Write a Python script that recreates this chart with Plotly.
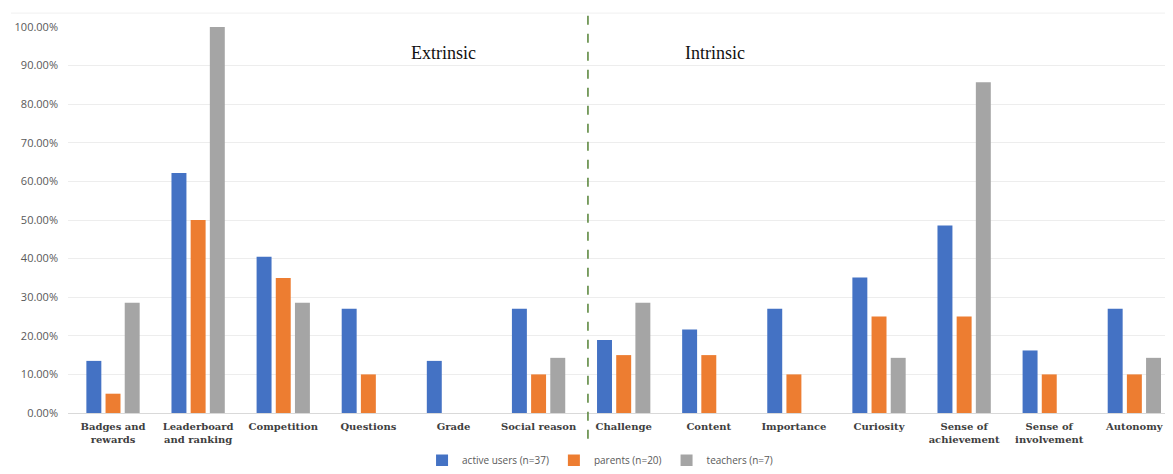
import plotly.graph_objects as go

categories = ["Badges and<br>rewards", "Leaderboard<br>and ranking", "Competition", "Questions",
              "Grade", "Social reason", "Challenge", "Content", "Importance", "Curiosity",
              "Sense of<br>achievement", "Sense of<br>involvement", "Autonomy"]
active_users = [0.135, 0.622, 0.405, 0.270, 0.135, 0.270, 0.189, 0.216, 0.270, 0.351, 0.486, 0.162, 0.270]
parents = [0.05, 0.50, 0.35, 0.10, 0.0, 0.10, 0.15, 0.15, 0.10, 0.25, 0.25, 0.10, 0.10]
teachers = [0.2857, 1.0, 0.2857, 0.0, 0.0, 0.1429, 0.2857, 0.0, 0.0, 0.1429, 0.8571, 0.0, 0.1429]
series_names = ["active users (n=37)", "parents (n=20)", "teachers (n=7)"]
colors = ["#4472C4", "#ED7D31", "#A5A5A5"]

fig = go.Figure()
for name, vals, c in zip(series_names, [active_users, parents, teachers], colors):
    fig.add_trace(go.Bar(x=categories, y=vals, name=name, marker_color=c,
                         marker_line_width=0))

fig.update_layout(
    width=1157, height=458,
    margin=dict(l=60, r=0, t=19, b=53),
    paper_bgcolor="white", plot_bgcolor="white",
    barmode="group", bargap=0.324, bargroupgap=0.22,
    showlegend=True,
    legend=dict(orientation="h", x=0.485, xanchor="center", xref="paper",
                y=0.012, yanchor="middle", yref="container",
                font=dict(family="Open Sans, sans-serif", size=10, color="#595959"),
                itemwidth=30, traceorder="normal", tracegroupgap=0),
    xaxis=dict(range=[-0.529, 12.36],
               tickfont=dict(family="DejaVu Serif, serif", size=10, color="#404040", weight="bold"),
               showline=True, linecolor="#D9D9D9", linewidth=1, ticks="", automargin=False,
               ticklabelstandoff=4),
    yaxis=dict(range=[0, 1.0], tickformat=".2%", dtick=0.1,
               tickfont=dict(family="Open Sans, sans-serif", size=11, color="#595959"),
               showgrid=True, gridcolor="#EDEDED", gridwidth=1, zeroline=False, ticks="",
               automargin=False, ticklabelstandoff=9),
    font=dict(family="Liberation Serif, serif"),
)

fig.add_shape(type="line", xref="x", yref="paper", x0=5.58, x1=5.58, y0=-0.16, y1=1.036,
              line=dict(color="#548235", width=1.5, dash="dash"))
fig.add_shape(type="line", xref="paper", yref="paper", x0=-0.052, x1=1.0, y0=1.036, y1=1.036,
              line=dict(color="#F0F0F0", width=1))

fig.add_annotation(text="Extrinsic", xref="x", yref="y", x=3.88, y=0.933, showarrow=False,
                   font=dict(family="Liberation Serif, serif", size=18, color="#111111"))
fig.add_annotation(text="Intrinsic", xref="x", yref="y", x=7.07, y=0.933, showarrow=False,
                   font=dict(family="Liberation Serif, serif", size=18, color="#111111"))

fig.write_html("out.html")
